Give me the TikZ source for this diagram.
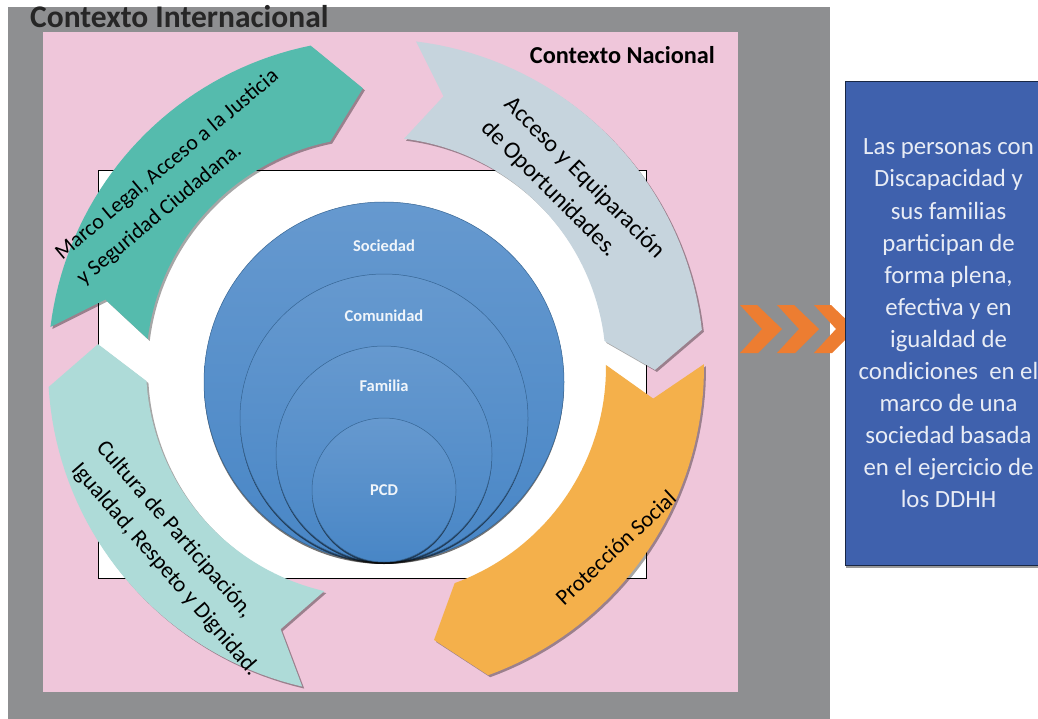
\documentclass[tikz,border=0pt]{standalone}
\usepackage{fontspec}
\setmainfont{Carlito}
\usetikzlibrary{positioning,shadows}

\definecolor{outergray}{HTML}{8E8F91}
\definecolor{natpink}{HTML}{EFC6DA}
\definecolor{legalteal}{HTML}{55BBAD}
\definecolor{accessgray}{HTML}{C6D4DD}
\definecolor{protorange}{HTML}{F4B04B}
\definecolor{culturemint}{HTML}{AEDBD8}
\definecolor{chevorange}{HTML}{ED7D31}
\definecolor{goalblue}{HTML}{3F61AD}
\definecolor{ringtop}{HTML}{6699CF}
\definecolor{ringbot}{HTML}{4886C6}

\tikzset{
  arrowshadow/.style={drop shadow={shadow xshift=2pt, shadow yshift=-2pt, opacity=.35, fill=black}},
  ringlabel/.style={align=left, font=\fontsize{#1}{33}\selectfont, inner sep=0pt},
  ringlayer/.style={circle, draw=ringbot!75!black, line width=.5pt, top color=ringtop, bottom color=ringbot, inner sep=0pt,
    drop shadow={shadow xshift=0pt, shadow yshift=-2pt, opacity=.55, fill=black}},
  circlabel/.style={text=white!90!ringtop, font=\bfseries\fontsize{16.5}{19}\selectfont, inner sep=0pt},
  goalbox/.style={draw=goalblue!40!black, fill=goalblue, line width=1pt, text=white!88!goalblue, align=center,
    font=\fontsize{24.8}{32.1}\selectfont, drop shadow={shadow xshift=1pt, shadow yshift=-3pt, opacity=.4, fill=black}},
}

% one bent chevron of the ring: tail, head base, tip, colour
\newcommand{\ringarrow}[4]{%
  \fill[#4, arrowshadow] plot[domain=#1:#2, samples=40] (\x:328) -- (#3:279)
    -- plot[domain=#2:#1, samples=40] (\x:230) -- ({#1+7}:279) -- cycle;}

\begin{document}
\begin{tikzpicture}[x=1pt, y=-1pt]
  \useasboundingbox (0,0) rectangle (1038,719);
  \fill [outergray] (8,7) rectangle (830,719);
  \fill [natpink] (43,32) rectangle (738,692);
  \node [anchor=base west, font=\bfseries\fontsize{31.5}{36}\selectfont, text=black!85, inner sep=0pt] (intl) at (30,28) {Contexto Internacional};
  \node [anchor=base east, font=\bfseries\fontsize{24.3}{28}\selectfont, inner sep=0pt] (natl) at (715,64) {Contexto Nacional};
  \draw [fill=white, line width=.8pt] (98,170) rectangle (646,578);

  % concentric circles
  \node [ringlayer, minimum size=360pt] (soc) at (384,382) {};
  \node [ringlayer, minimum size=288pt] (com) at (384,418) {};
  \node [ringlayer, minimum size=216pt] (fam) at (384,454) {};
  \node [ringlayer, minimum size=144pt] (pcd) at (384,490) {};
  \node [circlabel, below=38pt of soc.north] (socl) {Sociedad};
  \node [circlabel, below=36pt of com.north] (coml) {Comunidad};
  \node [circlabel, below=34pt of fam.north] (faml) {Familia};
  \node [circlabel] (pcdl) at (pcd) {PCD};

  % ring of arrows
  \begin{scope}[shift={(376,367)}]
    \ringarrow{103}{176.5}{184.7}{culturemint}
    \ringarrow{-0.5}{70}{78}{protorange}
    \ringarrow{277}{353.5}{360.6}{accessgray}
    \ringarrow{187}{258.5}{267.3}{legalteal}
    \node [ringlabel=21.8, rotate=40] (legal) at (223.7:274) {Marco Legal, Acceso a la Justicia\\y Seguridad Ciudadana.};
    \node [ringlabel=24, rotate=-45] (access) at (318:265) {Acceso y Equiparación\\de Oportunidades.};
    \node [ringlabel=22.8, rotate=-49] (culture) at (136:276) {Cultura de Participación,\\Igualdad, Respeto y Dignidad.};
    \node [ringlabel=22.5, rotate=43] (protect) at (37:300) {Protección Social};
  \end{scope}

  % chevrons
  \foreach \i in {0,1,2}
    \fill [chevorange, shift={({37*\i},0)}] (740,305) -- (757,305) -- (782,329) -- (758,353) -- (740,353) -- (762,329) -- cycle;

  \node [goalbox, minimum width=207pt, minimum height=483pt] (goal) at (948.5,323.5) {Las personas con\\Discapacidad y\\sus familias\\participan de\\forma plena,\\efectiva y en\\igualdad de\\condiciones\ \ en el\\marco de una\\sociedad basada\\en el ejercicio de\\los DDHH};
\end{tikzpicture}
\end{document}
